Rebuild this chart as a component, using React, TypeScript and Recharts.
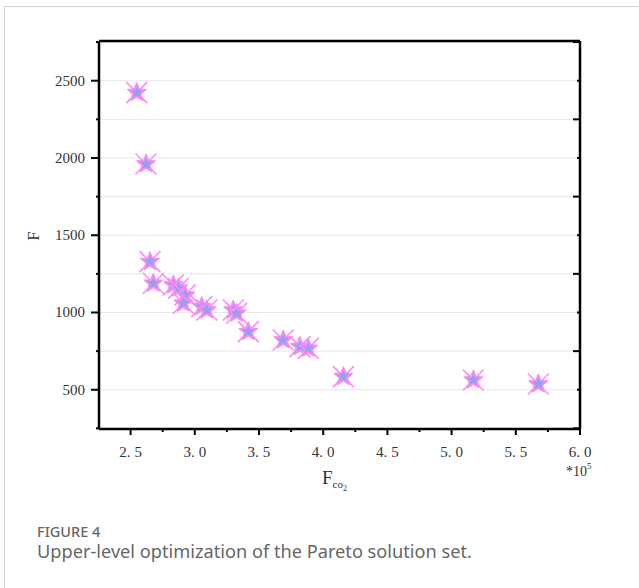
import React from 'react';
import { ScatterChart, Scatter, XAxis, YAxis, CartesianGrid } from 'recharts';

const fco2Values = [2.548, 2.62, 2.651, 2.677, 2.833, 2.872, 2.924, 2.911, 3.054, 3.093, 3.3, 3.326, 3.417, 3.689, 3.819, 3.884, 4.157, 5.169, 5.675];
const fValues = [2423, 1961, 1329, 1189, 1178, 1157, 1113, 1060, 1038, 1016, 1016, 995, 876, 822, 779, 768, 585, 563, 537];

const xDomain: [number, number] = [2.254, 6.0];
const yDomain: [number, number] = [246, 2757];
const xTicks = [2.5, 2.75, 3.0, 3.25, 3.5, 3.75, 4.0, 4.25, 4.5, 4.75, 5.0, 5.25, 5.5, 5.75, 6.0];
const xLabelTicks = [2.5, 3.0, 3.5, 4.0, 4.5, 5.0, 5.5, 6.0];
const yTicks = [250, 500, 750, 1000, 1250, 1500, 1750, 2000, 2250, 2500, 2750];
const yLabelTicks = [500, 1000, 1500, 2000, 2500];
const topTicks = [0, 1, 2, 3, 4, 5, 6, 7, 8, 9, 10];

const data = fco2Values.map((x, i) => ({ x, y: fValues[i] }));

const SERIF = '"Liberation Serif", "DejaVu Serif", serif';
const SANS = '"Noto Sans", "Open Sans", sans-serif';

const BottomTick = (props: any) => {
  const { x, y, payload } = props;
  const v = payload.value as number;
  const major = xLabelTicks.some((t) => Math.abs(t - v) < 1e-6);
  const s = v.toFixed(1);
  const [a, b] = s.split('.');
  return (
    <g>
      <line x1={x} x2={x} y1={y} y2={y + (major ? 6 : 3)} stroke="#000" strokeWidth={2} />
      {major && (
        <text x={x} y={y + 28} textAnchor="middle" fontFamily={SERIF} fontSize={15} fill="#333">
          <tspan>{a + '.'}</tspan>
          <tspan dx={4}>{b}</tspan>
        </text>
      )}
    </g>
  );
};

const TopTick = (props: any) => {
  const { x, y, payload } = props;
  const v = payload.value as number;
  if (v === 0 || v === 10) return <g />;
  const long = v % 2 === 0;
  return <line x1={x} x2={x} y1={y} y2={y + (long ? 6 : 3)} stroke="#000" strokeWidth={2} />;
};

const LeftTick = (props: any) => {
  const { x, y, payload } = props;
  const v = payload.value as number;
  const major = yLabelTicks.includes(v);
  return (
    <g>
      <line x1={x} x2={x - (major ? 8 : 3)} y1={y} y2={y} stroke="#000" strokeWidth={2} />
      {major && (
        <text x={x - 14} y={y + 5} textAnchor="end" fontFamily={SERIF} fontSize={15} fill="#333">
          {v}
        </text>
      )}
    </g>
  );
};

const RightTick = (props: any) => {
  const { x, y, payload } = props;
  const v = payload.value as number;
  const long = v % 500 !== 0;
  return <line x1={x} x2={x - (long ? 7 : 3)} y1={y} y2={y} stroke="#000" strokeWidth={2} />;
};

const starPoints = (cx: number, cy: number, ro: number, ri: number) => {
  const pts: string[] = [];
  for (let i = 0; i < 10; i++) {
    const r = i % 2 === 0 ? ro : ri;
    const a = -Math.PI / 2 + (i * Math.PI) / 5;
    pts.push(`${cx + r * Math.cos(a)},${cy + r * Math.sin(a)}`);
  }
  return pts.join(' ');
};

const Marker = (props: any) => {
  const { cx, cy } = props;
  if (cx == null || cy == null) return <g />;
  const d = 10.5;
  return (
    <g>
      <line x1={cx - d} y1={cy - d} x2={cx + d} y2={cy + d} stroke="#ff88ff" strokeWidth={1.6} />
      <line x1={cx - d} y1={cy + d} x2={cx + d} y2={cy - d} stroke="#ff88ff" strokeWidth={1.6} />
      <polygon points={starPoints(cx, cy, 10, 4.5)} fill="#f48af4" stroke="#f48af4" strokeWidth={1} />
      <polygon points={starPoints(cx, cy, 6, 2.7)} fill="#8fa3ea" />
    </g>
  );
};

export default function App() {
  return (
    <div style={{ position: 'absolute', left: 0, top: 0, width: 639, height: 588, overflow: 'hidden', background: '#fff' }}>
      <div style={{ position: 'absolute', left: 4, top: 6, width: 700, height: 700, borderLeft: '1px solid #cfcfcf', borderTop: '1px solid #cfcfcf' }} />
      <div style={{ position: 'absolute', left: 0, top: 0 }}>
        <ScatterChart width={639} height={500} margin={{ top: 31, right: 49, bottom: 31, left: 39 }}>
          <CartesianGrid xAxisId="top" yAxisId="left" stroke="#e6e6e6" strokeWidth={1} />
          <XAxis
            xAxisId="bottom"
            type="number"
            dataKey="x"
            domain={xDomain}
            ticks={xTicks}
            interval={0}
            height={40}
            tickSize={0}
            tickMargin={0}
            tickLine={false}
            tick={<BottomTick />}
            axisLine={{ stroke: '#000', strokeWidth: 2.5 }}
            allowDataOverflow
          />
          <XAxis
            xAxisId="top"
            orientation="top"
            type="number"
            domain={[0, 10]}
            ticks={topTicks}
            interval={0}
            height={10}
            tickSize={0}
            tickMargin={0}
            tickLine={false}
            tick={<TopTick />}
            axisLine={{ stroke: '#000', strokeWidth: 2.5 }}
          />
          <YAxis
            yAxisId="left"
            type="number"
            dataKey="y"
            domain={yDomain}
            ticks={yTicks}
            interval={0}
            width={60}
            tickSize={0}
            tickMargin={0}
            tickLine={false}
            tick={<LeftTick />}
            axisLine={{ stroke: '#000', strokeWidth: 2.5 }}
            allowDataOverflow
          />
          <YAxis
            yAxisId="right"
            orientation="right"
            type="number"
            domain={yDomain}
            ticks={yTicks}
            interval={0}
            width={10}
            tickSize={0}
            tickMargin={0}
            tickLine={false}
            tick={<RightTick />}
            axisLine={{ stroke: '#000', strokeWidth: 2.5 }}
            allowDataOverflow
          />
          <Scatter data={data} xAxisId="bottom" yAxisId="left" shape={<Marker />} isAnimationActive={false} />
        </ScatterChart>
      </div>
      <svg width={639} height={588} style={{ position: 'absolute', left: 0, top: 0, pointerEvents: 'none' }}>
        <text x={39} y={236} transform="rotate(-90 39 236)" textAnchor="middle" fontFamily={SERIF} fontSize={17} fill="#333">F</text>
        <text x={322} y={484} fontFamily={SERIF} fontSize={19} fill="#333">
          F
          <tspan fontSize={11} dy={4}>co</tspan>
          <tspan fontSize={8} dy={3}>2</tspan>
        </text>
        <text x={566} y={476} fontFamily={SERIF} fontSize={14} fill="#333">
          *10
          <tspan fontSize={9} dy={-7}>5</tspan>
        </text>
        <text x={37} y={537} fontFamily={SANS} fontSize={14.5} fontWeight={500} fill="#666">FIGURE 4</text>
        <text x={37} y={558} fontFamily={SANS} fontSize={18.2} fill="#666">Upper-level optimization of the Pareto solution set.</text>
      </svg>
    </div>
  );
}
